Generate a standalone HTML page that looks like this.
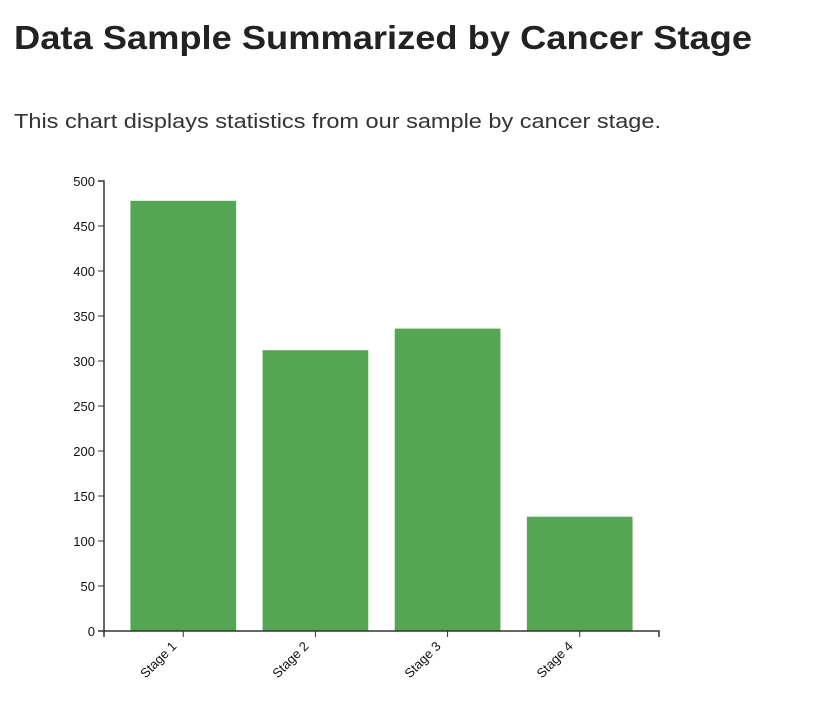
<!DOCTYPE html>
<html><head><meta charset="utf-8"><style>
body{margin:0;background:#fff;width:822px;height:706px;overflow:hidden}
svg{display:block}
</style></head><body>
<svg width="822" height="706">
<text x="14" y="49" font-family="Liberation Sans, sans-serif" font-weight="bold" font-size="33" fill="#222" textLength="738" lengthAdjust="spacingAndGlyphs">Data Sample Summarized by Cancer Stage</text>
<text x="14" y="128" font-family="Liberation Sans, sans-serif" font-size="20" fill="#333" textLength="647" lengthAdjust="spacingAndGlyphs">This chart displays statistics from our sample by cancer stage.</text>
<g id="plot"></g>
</svg>
<script>
const categories = ["Stage 1","Stage 2","Stage 3","Stage 4"];
const values = [478, 312, 336, 127];
const yTicks = [0,50,100,150,200,250,300,350,400,450,500];
const NS="http://www.w3.org/2000/svg";
const g=document.getElementById('plot');
const x0=104,x1=659,yB=631,yT=181,yMax=500;
const y=v=>yB-(v/yMax)*(yB-yT);
const step=(x1-x0)/(categories.length-0.2+2*0.2);
const bw=step*0.8;
const bx=i=>x0+step*0.2+i*step;
function el(t,a){const e=document.createElementNS(NS,t);for(const k in a)e.setAttribute(k,a[k]);g.appendChild(e);return e;}
categories.forEach((c,i)=>{
  const r=el('rect',{x:bx(i),y:y(values[i]),width:bw,height:yB-y(values[i]),fill:'#55a653'});
  
  
  const cx=bx(i)+bw/2;
  const t=el('line',{x1:cx,x2:cx,y1:yB,y2:yB+6,stroke:'#333'});
  
  
  const l=el('text',{x:cx-6,y:yB+16,'text-anchor':'end',transform:`rotate(-45 ${cx-6} ${yB+16})`,'font-family':'Liberation Sans, sans-serif','font-size':'13',fill:'#111'});
  l.textContent=c;
  
  
});
yTicks.forEach(v=>{
  const t=el('line',{x1:x0-6,x2:x0,y1:y(v),y2:y(v),stroke:'#333'});
  
  
  const l=el('text',{x:x0-9,y:y(v)+5,'text-anchor':'end','font-family':'Liberation Sans, sans-serif','font-size':'13',fill:'#111'});
  l.textContent=v;
  
  
});
const ya=el('path',{d:`M${x0-6},${yT}H${x0}V${yB}H${x0-6}`,fill:'none',stroke:'#333','stroke-width':'1.5'});


const xa=el('path',{d:`M${x0},${yB+6}V${yB}H${x1}V${yB+6}`,fill:'none',stroke:'#333','stroke-width':'1.5'});


</script>
</body></html>
